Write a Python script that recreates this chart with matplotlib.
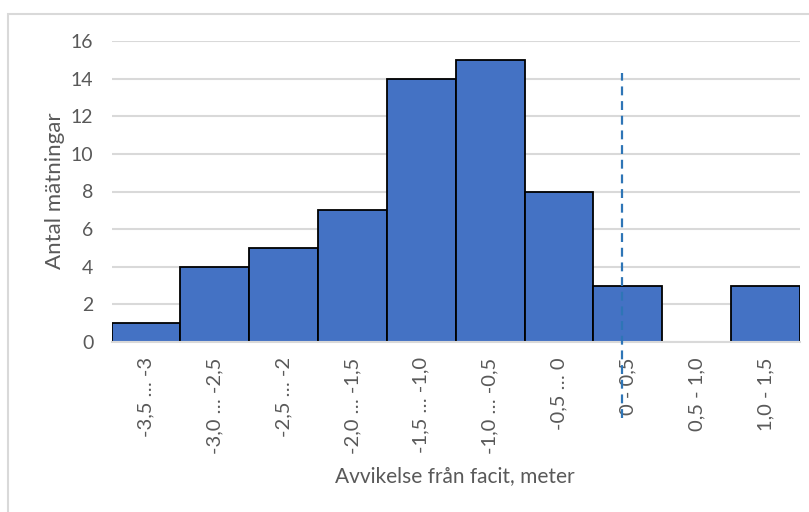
import matplotlib
matplotlib.use("Agg")
import matplotlib.pyplot as plt
from matplotlib.patches import Rectangle
import numpy as np

categories = ["-3,5 … -3", "-3,0 … -2,5", "-2,5 … -2", "-2,0 … -1,5", "-1,5 … -1,0",
              "-1,0 … -0,5", "-0,5 … 0", "0 - 0,5", "0,5 - 1,0", "1,0 - 1,5"]
counts = [1, 4, 5, 7, 14, 15, 8, 3, 0, 3]
yticks = [0, 2, 4, 6, 8, 10, 12, 14, 16]
marker_x = 6.91          # dashed reference line position (category units)
marker_y = (-4.05, 14.3)

plt.rcParams['font.family'] = ['Lato', 'DejaVu Sans']
grey = '#595959'

fig = plt.figure(figsize=(8.09, 5.12), dpi=100)
ax = fig.add_axes([111.5/809, 1-342/512, (800-111.5)/809, (342-41)/512])

x = np.arange(len(categories))
ax.bar(x, counts, width=1.0, color='#4472C4', edgecolor='black', linewidth=1.3, zorder=3)

ax.set_xlim(-0.5, len(categories)-0.5)
ax.set_ylim(0, 16)
ax.set_yticks(yticks)
ax.set_yticklabels([str(v) for v in yticks], fontsize=14, color=grey)
ax.set_xticks(x)
ax.set_xticklabels(categories, rotation=90, fontsize=14.5, color=grey)
ax.tick_params(axis='both', length=0)
ax.tick_params(axis='x', pad=11)
ax.tick_params(axis='y', pad=13)
ax.yaxis.grid(True, color='#D9D9D9', linewidth=1.5, zorder=0)
ax.set_axisbelow(True)
for s in ['top', 'right', 'left']:
    ax.spines[s].set_visible(False)
ax.spines['bottom'].set_color('#D9D9D9')
ax.spines['bottom'].set_linewidth(1.5)
ax.spines['bottom'].set_zorder(4)

ax.plot([marker_x, marker_x], marker_y, linestyle=(0, (4, 2.6)), color='#2E75B6',
        linewidth=1.6, clip_on=False, zorder=5)

fig.text(55/809, 1-191/512, "Antal mätningar", fontsize=16, color=grey,
         ha='center', va='center', rotation=90)
fig.text(455/809, 1-476/512, "Avvikelse från facit, meter", fontsize=15, color=grey,
         ha='center', va='center')

fig.patches.append(Rectangle((8/809, -0.1), 1.2, 1-14/512+0.1, transform=fig.transFigure,
                             fill=False, edgecolor='#D9D9D9', linewidth=1.5))

fig.savefig("out.png", dpi=100)
